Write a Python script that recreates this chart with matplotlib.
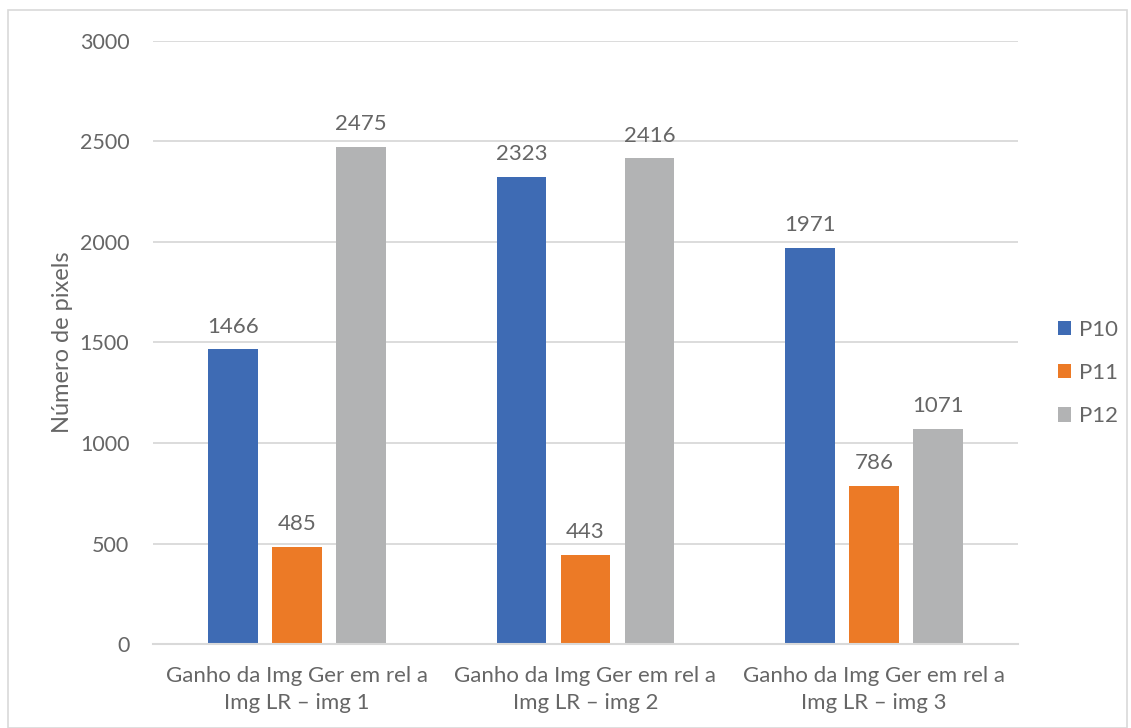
import matplotlib
matplotlib.use("Agg")
import matplotlib.pyplot as plt
import numpy as np
from matplotlib.patches import Rectangle

plt.rcParams['font.family'] = ['Lato', 'DejaVu Sans']

categories = ["Ganho da Img Ger em rel a\nImg LR – img 1",
              "Ganho da Img Ger em rel a\nImg LR – img 2",
              "Ganho da Img Ger em rel a\nImg LR – img 3"]
series_names = ["P10", "P11", "P12"]
p10 = [1466, 2323, 1971]
p11 = [485, 443, 786]
p12 = [2475, 2416, 1071]
y_ticks = [0, 500, 1000, 1500, 2000, 2500, 3000]

colors = ["#3E6BB4", "#EC7A26", "#B2B3B4"]
text_color = "#666666"
grid_color = "#D9D9D9"

fig = plt.figure(figsize=(11.31, 7.28), dpi=100)
fig.patches.append(Rectangle((8 / 1131, 0), 1 - 12 / 1131, 1 - 10 / 728,
                             transform=fig.transFigure, fill=False,
                             edgecolor="#D9D9D9", linewidth=1.2))
ax = fig.add_axes([153 / 1131, 1 - 644 / 728, (1018 - 153) / 1131, (644 - 41) / 728])

x = np.arange(len(categories))
width = 0.173
step = 0.222
for i, (name, vals) in enumerate(zip(series_names, [p10, p11, p12])):
    bars = ax.bar(x + (i - 1) * step, vals, width, color=colors[i], label=name, zorder=3)
    for b, v in zip(bars, vals):
        ax.annotate(f"{v}", (b.get_x() + b.get_width() / 2, v),
                    xytext=(0, 12), textcoords="offset points",
                    ha="center", va="baseline", fontsize=16, color=text_color)

ax.set_xlim(-0.5, 2.5)
ax.set_ylim(0, 3000)
ax.set_yticks(y_ticks)
ax.set_xticks(x)
ax.set_xticklabels(categories, fontsize=16, color=text_color, linespacing=1.42)
ax.tick_params(axis="y", labelsize=15.5, labelcolor=text_color, length=0, pad=17)
ax.tick_params(axis="x", length=0, pad=16)
ax.grid(axis="y", color=grid_color, linewidth=1.3, zorder=0)
for s in ["top", "right", "left"]:
    ax.spines[s].set_visible(False)
ax.spines["bottom"].set_color(grid_color)
ax.spines["bottom"].set_linewidth(1.5)
ax.spines["bottom"].set_zorder(4)

ax.set_ylabel("Número de pixels", fontsize=17, color=text_color, labelpad=5)

leg = ax.legend(loc="center left", bbox_to_anchor=(1058 / 1131, 1 - 373 / 728),
                bbox_transform=fig.transFigure, frameon=False, fontsize=16,
                borderpad=0, borderaxespad=0,
                handlelength=0.6, handleheight=0.6, handletextpad=0.35,
                labelspacing=1.05, labelcolor=text_color)

fig.savefig("out.png", dpi=100)
